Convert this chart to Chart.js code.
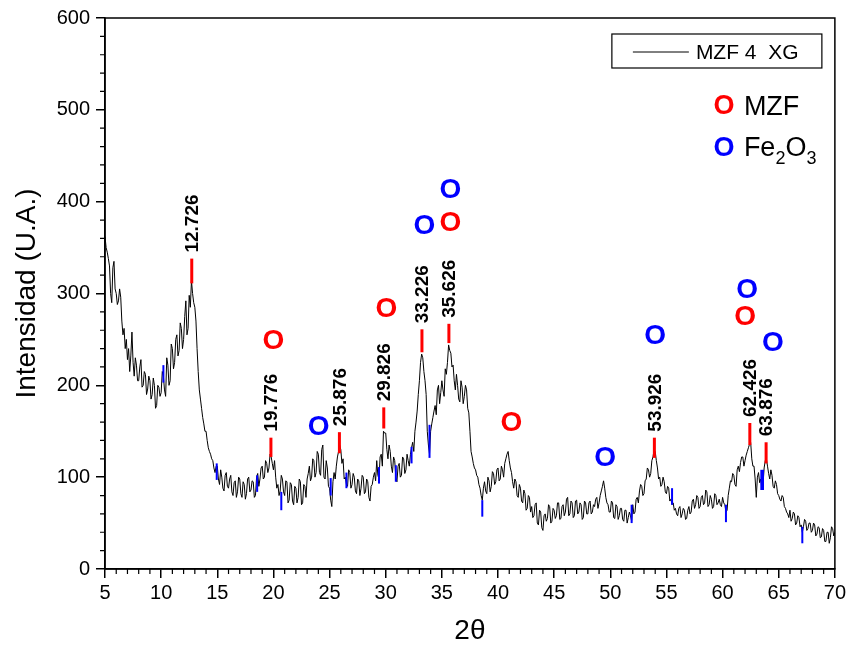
<!DOCTYPE html>
<html>
<head>
<meta charset="utf-8">
<script src="https://cdn.jsdelivr.net/npm/chart.js@4.4.1/dist/chart.umd.min.js"></script>
<style>
  body { margin: 0; background: #fff; }
  canvas { display: block; }
</style>
</head>
<body>
<canvas id="xrdChart" width="849" height="652"></canvas>
<script>
// scan grid: 5 to 70 deg, 0.1 deg step
const thetaStart = 5;
const thetaStep = 0.1;

// intensity, one row per degree (x.0 ... x.9)
const intensity = [
  362, 350, 345, 338, 330, 300, 290, 328, 335, 305,   // 5
  300, 288, 292, 305, 296, 270, 255, 262, 240, 250,   // 6
  228, 240, 215, 232, 258, 225, 210, 230, 222, 205,   // 7
  205, 220, 228, 198, 200, 215, 212, 190, 196, 210,   // 8
  205, 185, 190, 208, 200, 175, 178, 200, 198, 188,   // 9
  192, 215, 210, 195, 188, 230, 222, 200, 205, 245,   // 10
  240, 218, 225, 250, 255, 232, 238, 268, 262, 240,   // 11
  250, 275, 292, 255, 262, 298, 285, 314, 300, 290,   // 12
  285, 270, 240, 215, 195, 185, 175, 165, 158, 150,   // 13
  150, 140, 132, 128, 125, 120, 118, 110, 105, 112,   // 14
  112, 98, 92, 108, 100, 88, 85, 102, 105, 90,        // 15
  88, 98, 102, 84, 80, 94, 96, 78, 84, 100,           // 16
  98, 82, 78, 95, 92, 76, 82, 98, 100, 84,            // 17
  86, 96, 95, 78, 80, 100, 104, 90, 98, 110,          // 18
  112, 98, 100, 118, 115, 105, 110, 125, 122, 115,    // 19
  108, 118, 100, 88, 92, 80, 85, 102, 98, 84,         // 20
  80, 96, 95, 72, 75, 94, 92, 74, 70, 90,             // 21
  88, 72, 78, 98, 95, 70, 72, 92, 90, 78,             // 22
  98, 104, 112, 96, 100, 120, 118, 100, 105, 128,     // 23
  125, 105, 102, 130, 135, 100, 98, 118, 110, 90,     // 24
  88, 75, 68, 95, 105, 98, 112, 122, 128, 135,        // 25
  130, 115, 120, 98, 100, 92, 90, 108, 105, 88,       // 26
  92, 104, 100, 85, 82, 98, 96, 80, 88, 102,          // 27
  100, 82, 84, 98, 95, 78, 74, 90, 92, 100,           // 28
  105, 96, 118, 102, 98, 122, 125, 112, 150, 148,     // 29
  148, 130, 120, 135, 128, 112, 105, 122, 118, 100,   // 30
  95, 112, 115, 100, 102, 122, 120, 104, 108, 125,    // 31
  118, 112, 125, 132, 138, 128, 150, 160, 172, 190,   // 32
  205, 225, 234, 230, 215, 205, 190, 150, 135, 125,   // 33
  150, 158, 165, 172, 178, 168, 195, 200, 180, 192,   // 34
  205, 195, 188, 218, 212, 225, 244, 238, 235, 220,   // 35
  222, 205, 195, 212, 200, 185, 182, 205, 198, 180,   // 36
  188, 200, 195, 175, 170, 150, 128, 122, 115, 110,   // 37
  108, 102, 100, 92, 88, 80, 75, 88, 95, 85,          // 38
  82, 100, 96, 84, 90, 106, 104, 92, 95, 108,         // 39
  110, 96, 98, 112, 108, 100, 115, 120, 125, 128,     // 40
  118, 110, 105, 95, 88, 98, 95, 80, 78, 92,          // 41
  88, 74, 72, 86, 82, 64, 66, 80, 78, 62,             // 42
  68, 56, 58, 70, 72, 50, 48, 64, 62, 45,             // 43
  42, 58, 60, 52, 55, 70, 68, 50, 52, 66,             // 44
  64, 55, 58, 72, 72, 54, 55, 68, 70, 58,             // 45
  62, 76, 78, 58, 60, 74, 72, 56, 58, 74,             // 46
  75, 60, 62, 72, 70, 54, 56, 74, 72, 60,             // 47
  60, 72, 74, 60, 62, 70, 68, 76, 78, 66,             // 48
  72, 80, 85, 90, 96, 88, 78, 72, 70, 62,             // 49
  62, 74, 72, 56, 55, 70, 68, 54, 58, 66,             // 50
  66, 54, 52, 64, 64, 50, 56, 62, 58, 52,             // 51
  70, 60, 62, 76, 78, 72, 85, 92, 90, 80,             // 52
  82, 96, 98, 110, 108, 100, 104, 118, 122, 130,      // 53
  128, 118, 110, 98, 100, 90, 92, 100, 95, 84,        // 54
  82, 90, 88, 74, 76, 70, 72, 64, 66, 60,             // 55
  58, 66, 68, 56, 60, 66, 64, 54, 55, 64,             // 56
  68, 60, 62, 74, 76, 66, 70, 80, 78, 66,             // 57
  68, 78, 80, 70, 72, 86, 84, 68, 70, 80,             // 58
  76, 66, 68, 82, 80, 70, 72, 76, 70, 68,             // 59
  78, 72, 70, 62, 64, 80, 88, 96, 95, 104,            // 60
  102, 92, 90, 108, 112, 106, 116, 122, 122, 112,     // 61
  118, 124, 128, 132, 136, 138, 120, 112, 112, 98,    // 62
  78, 100, 105, 94, 98, 88, 92, 110, 118, 120,        // 63
  112, 104, 98, 108, 102, 90, 88, 96, 92, 82,         // 64
  80, 76, 74, 80, 78, 68, 66, 62, 60, 56,             // 65
  64, 52, 55, 62, 60, 48, 50, 58, 56, 46,             // 66
  48, 40, 46, 54, 52, 42, 44, 50, 50, 40,             // 67
  42, 50, 48, 36, 38, 46, 45, 34, 35, 44,             // 68
  42, 30, 30, 40, 40, 28, 34, 46, 44, 36,             // 69
  40                                                  // 70
];

// labelled peaks (red marks)
const peakLabels = ['12.726', '19.776', '25.876', '29.826', '33.226', '35.626', '53.926', '62.426', '63.876'];
const peakTheta = [12.726, 19.776, 25.876, 29.826, 33.226, 35.626, 53.926, 62.426, 63.876];
const peakLow = [311, 122, 126, 153, 236, 246, 121, 135, 115];
const peakHigh = [338, 143, 149, 176, 261, 267, 143, 159, 138];

// Fe2O3 reflections marked on the trace (blue marks)
const feTheta = [10.2, 14.95, 18.55, 20.7, 25.1, 26.5, 29.4, 30.9, 32.3, 33.9, 38.6, 51.9, 55.5, 60.3, 63.45, 63.6, 67.1];
const feLow = [203, 97, 84, 64, 80, 88, 93, 95, 115, 121, 57, 50, 70, 51, 86, 86, 28];
const feHigh = [222, 115, 102, 84, 99, 105, 111, 113, 133, 157, 75, 70, 88, 70, 108, 108, 46];

// phase symbols
const mzfMarkTheta = [20.0, 30.07, 35.77, 41.19, 62.0];
const mzfMarkY = [249, 284, 378, 160, 275];
const feMarkTheta = [24.03, 33.45, 35.77, 49.55, 54.0, 62.18, 64.49];
const feMarkY = [155, 374, 413, 122, 255, 305, 247];

const FONT = "'Liberation Sans', Arial, sans-serif";
const RED = '#ff0000';
const BLUE = '#0000ff';

const points = intensity.map((v, i) => ({ x: +(thetaStart + i * thetaStep).toFixed(2), y: v }));

const overlay = {
  id: 'overlay',
  afterDatasetsDraw(chart) {
    const { ctx, chartArea: a, scales: { x, y } } = chart;
    ctx.save();

    // frame
    ctx.strokeStyle = '#000';
    ctx.lineWidth = 1.5;
    ctx.strokeRect(a.left, a.top, a.right - a.left, a.bottom - a.top);

    // minor ticks
    ctx.lineWidth = 1.2;
    ctx.beginPath();
    for (let t = 6; t < 70; t++) {
      if (t % 5 === 0) continue;
      const px = x.getPixelForValue(t);
      ctx.moveTo(px, a.bottom);
      ctx.lineTo(px, a.bottom + 5);
    }
    for (let v = 20; v < 600; v += 20) {
      if (v % 100 === 0) continue;
      const py = y.getPixelForValue(v);
      ctx.moveTo(a.left, py);
      ctx.lineTo(a.left - 5, py);
    }
    ctx.stroke();

    // blue marks on the trace
    ctx.strokeStyle = BLUE;
    ctx.lineWidth = 2;
    feTheta.forEach((t, i) => {
      const px = x.getPixelForValue(t);
      ctx.beginPath();
      ctx.moveTo(px, y.getPixelForValue(feLow[i]));
      ctx.lineTo(px, y.getPixelForValue(feHigh[i]));
      ctx.stroke();
    });

    // red marks and peak positions
    peakTheta.forEach((t, i) => {
      const px = x.getPixelForValue(t);
      const top = y.getPixelForValue(peakHigh[i]);
      ctx.strokeStyle = RED;
      ctx.lineWidth = 3;
      ctx.beginPath();
      ctx.moveTo(px, y.getPixelForValue(peakLow[i]));
      ctx.lineTo(px, top);
      ctx.stroke();

      ctx.save();
      ctx.translate(px, top - 6);
      ctx.rotate(-Math.PI / 2);
      ctx.fillStyle = '#000';
      ctx.font = 'bold 19px ' + FONT;
      ctx.textAlign = 'left';
      ctx.textBaseline = 'middle';
      ctx.fillText(peakLabels[i], 0, 1);
      ctx.restore();
    });

    // phase symbols
    ctx.font = 'bold 28px ' + FONT;
    ctx.textAlign = 'center';
    ctx.textBaseline = 'middle';
    ctx.fillStyle = RED;
    mzfMarkTheta.forEach((t, i) => ctx.fillText('O', x.getPixelForValue(t), y.getPixelForValue(mzfMarkY[i]) + 1));
    ctx.fillStyle = BLUE;
    feMarkTheta.forEach((t, i) => ctx.fillText('O', x.getPixelForValue(t), y.getPixelForValue(feMarkY[i]) + 1));

    // series legend box
    const bx = a.right - 223, by = a.top + 16;
    ctx.strokeStyle = '#000';
    ctx.lineWidth = 1.2;
    ctx.strokeRect(bx, by, 210, 34);
    ctx.lineWidth = 1;
    ctx.beginPath();
    ctx.moveTo(bx + 21, by + 18);
    ctx.lineTo(bx + 77, by + 18);
    ctx.stroke();
    ctx.fillStyle = '#000';
    ctx.font = '21px ' + FONT;
    ctx.textAlign = 'left';
    ctx.fillText(chart.data.datasets[0].label, bx + 84, by + 19);

    // phase key
    const kx = a.right - 111;
    ctx.font = 'bold 27px ' + FONT;
    ctx.textAlign = 'center';
    ctx.fillStyle = RED;
    ctx.fillText('O', kx, a.top + 89);
    ctx.fillStyle = BLUE;
    ctx.fillText('O', kx, a.top + 131);
    ctx.fillStyle = '#000';
    ctx.textAlign = 'left';
    ctx.font = '27px ' + FONT;
    ctx.fillText('MZF', kx + 20, a.top + 90);
    let cx = kx + 20;
    const ky = a.top + 131;
    ctx.fillText('Fe', cx, ky);
    cx += ctx.measureText('Fe').width;
    ctx.font = '18px ' + FONT;
    ctx.fillText('2', cx, ky + 10);
    cx += ctx.measureText('2').width;
    ctx.font = '27px ' + FONT;
    ctx.fillText('O', cx, ky);
    cx += ctx.measureText('O').width;
    ctx.font = '18px ' + FONT;
    ctx.fillText('3', cx, ky + 10);

    ctx.restore();
  }
};

new Chart(document.getElementById('xrdChart'), {
  type: 'line',
  data: {
    datasets: [{
      label: 'MZF 4  XG',
      data: points,
      borderColor: '#000',
      borderWidth: 1,
      pointRadius: 0,
      tension: 0
    }]
  },
  options: {
    responsive: false,
    animation: false,
    layout: { padding: { top: 17, right: 13, left: 0, bottom: 0 } },
    plugins: {
      legend: { display: false },
      tooltip: { enabled: false }
    },
    scales: {
      x: {
        type: 'linear',
        min: 5,
        max: 70,
        ticks: { stepSize: 5, color: '#000', font: { family: FONT, size: 20 }, padding: 3, maxRotation: 0 },
        grid: { drawOnChartArea: false, tickLength: 9, color: '#000', lineWidth: 1.5 },
        border: { color: '#000', width: 1.5 },
        title: { display: true, text: '2θ', color: '#000', font: { family: FONT, size: 28 }, padding: { top: 0, bottom: 4 } },
        afterFit(scale) { scale.height = 83; }
      },
      y: {
        min: 0,
        max: 600,
        ticks: { stepSize: 100, color: '#000', font: { family: FONT, size: 20 }, padding: 6 },
        grid: { drawOnChartArea: false, tickLength: 9, color: '#000', lineWidth: 1.5 },
        border: { color: '#000', width: 1.5 },
        title: { display: true, text: 'Intensidad (U.A.)', color: '#000', font: { family: FONT, size: 28 }, padding: { top: 10, bottom: 0 } },
        afterFit(scale) { scale.width = 105; }
      }
    }
  },
  plugins: [overlay]
});
</script>
</body>
</html>
